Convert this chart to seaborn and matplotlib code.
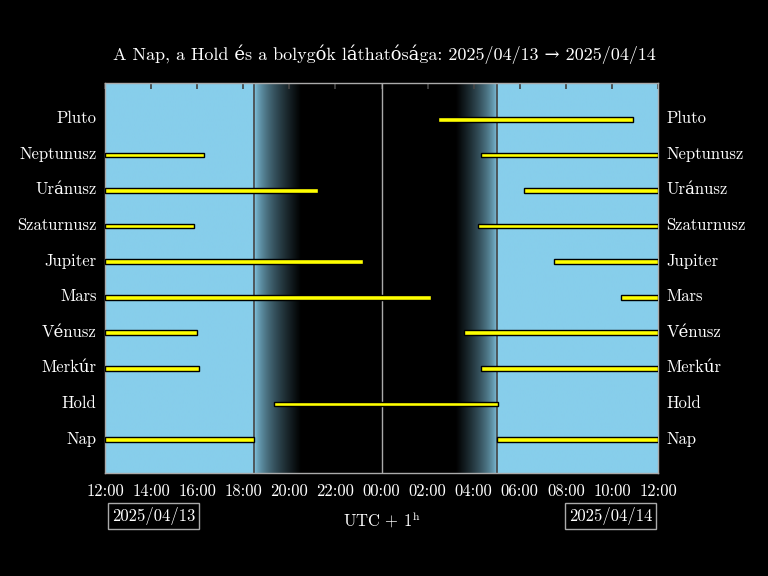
import numpy as np
import matplotlib
matplotlib.use("Agg")
import matplotlib.pyplot as plt
from matplotlib.colors import LinearSegmentedColormap
import seaborn as sns

bodies = ["Nap", "Hold", "Merkúr", "Vénusz", "Mars", "Jupiter", "Szaturnusz", "Uránusz", "Neptunusz", "Pluto"]
# visibility intervals in hours after 2025/04/13 12:00
intervals = [
    [(0, 6.47), (17.0, 24)],
    [(7.33, 17.05)],
    [(0, 4.08), (16.3, 24)],
    [(0, 4.0), (15.6, 24)],
    [(0, 14.15), (22.4, 24)],
    [(0, 11.2), (19.5, 24)],
    [(0, 3.86), (16.2, 24)],
    [(0, 9.25), (18.2, 24)],
    [(0, 4.3), (16.3, 24)],
    [(14.45, 22.9)],
]
sunset, dusk_end = 6.47, 8.5
dawn_start, sunrise = 15.2, 17.0
tick_labels = ["12:00", "14:00", "16:00", "18:00", "20:00", "22:00", "00:00",
               "02:00", "04:00", "06:00", "08:00", "10:00", "12:00"]

sns.set_theme(style="dark")
plt.rcParams["font.family"] = ["cmr10", "DejaVu Serif"]
plt.rcParams["axes.formatter.use_mathtext"] = True
plt.rcParams["mathtext.fontset"] = "cm"

fig = plt.figure(figsize=(7.68, 5.76), dpi=100, facecolor="black")
ax = fig.add_axes([0.1367, 0.1788, 0.7201, 0.6772])
ax.set_facecolor("black")

# sky gradient
xs = np.linspace(0, 24, 2000)
dark = np.zeros_like(xs)
dark[(xs >= dusk_end) & (xs <= dawn_start)] = 1
m = (xs >= sunset) & (xs < dusk_end)
dark[m] = (xs[m] - sunset) / (dusk_end - sunset)
m = (xs > dawn_start) & (xs <= sunrise)
dark[m] = (sunrise - xs[m]) / (sunrise - dawn_start)
dark = np.clip(dark, 0, 1) ** 0.6
cmap = LinearSegmentedColormap.from_list("sky", ["#87ceeb", "#000000"])
ax.imshow(dark[None, :], cmap=cmap, vmin=0, vmax=1, aspect="auto",
          extent=[0, 24, -1.0, 9.96], origin="lower", zorder=0, interpolation="bilinear")

for i, segs in enumerate(intervals):
    for a, b in segs:
        ax.barh(i - 0.06, b - a, left=a, height=0.13, color="yellow",
                edgecolor="black", linewidth=1, zorder=3)

ax.axvline(sunset, color="#444444", lw=1.2, zorder=2)
ax.axvline(sunrise, color="#444444", lw=1.2, zorder=2)
ax.axvline(12, color="#aaaaaa", lw=1, zorder=2)

ax.set_xlim(0, 24)
ax.set_ylim(-1.0, 9.96)
ax.set_xticks(range(0, 25, 2))
ax.set_xticklabels(tick_labels, color="white", fontsize=12)
ax.set_yticks(range(len(bodies)))
ax.set_yticklabels(bodies, color="white", fontsize=12)
ax.tick_params(axis="x", direction="in", length=4, color="#444444", top=True, pad=8)
ax.tick_params(axis="y", length=0, pad=6)
for s in ax.spines.values():
    s.set_color("#aaaaaa"); s.set_linewidth(1)
ax.grid(False)

ax2 = ax.twinx()
ax2.set_ylim(ax.get_ylim())
ax2.set_yticks(range(len(bodies)))
ax2.set_yticklabels(bodies, color="white", fontsize=12)
ax2.tick_params(axis="y", length=0, pad=6)
ax2.grid(False)
for s in ax2.spines.values():
    s.set_visible(False)

fig.text(0.5, 0.905, "A Nap, a Hold és a bolygók láthatósága: 2025/04/13 → 2025/04/14",
         color="white", fontsize=13, ha="center", va="center")
fig.text(0.497, 0.097, r"UTC$\,+\,1^{\mathrm{h}}$", color="white", fontsize=12, ha="center", va="center")
box = dict(boxstyle="square,pad=0.25", facecolor="black", edgecolor="#aaaaaa")
fig.text(0.2, 0.104, "2025/04/13", color="white", fontsize=12, ha="center", va="center", bbox=box)
fig.text(0.795, 0.104, "2025/04/14", color="white", fontsize=12, ha="center", va="center", bbox=box)

fig.savefig("out.png", dpi=100, facecolor="black")
